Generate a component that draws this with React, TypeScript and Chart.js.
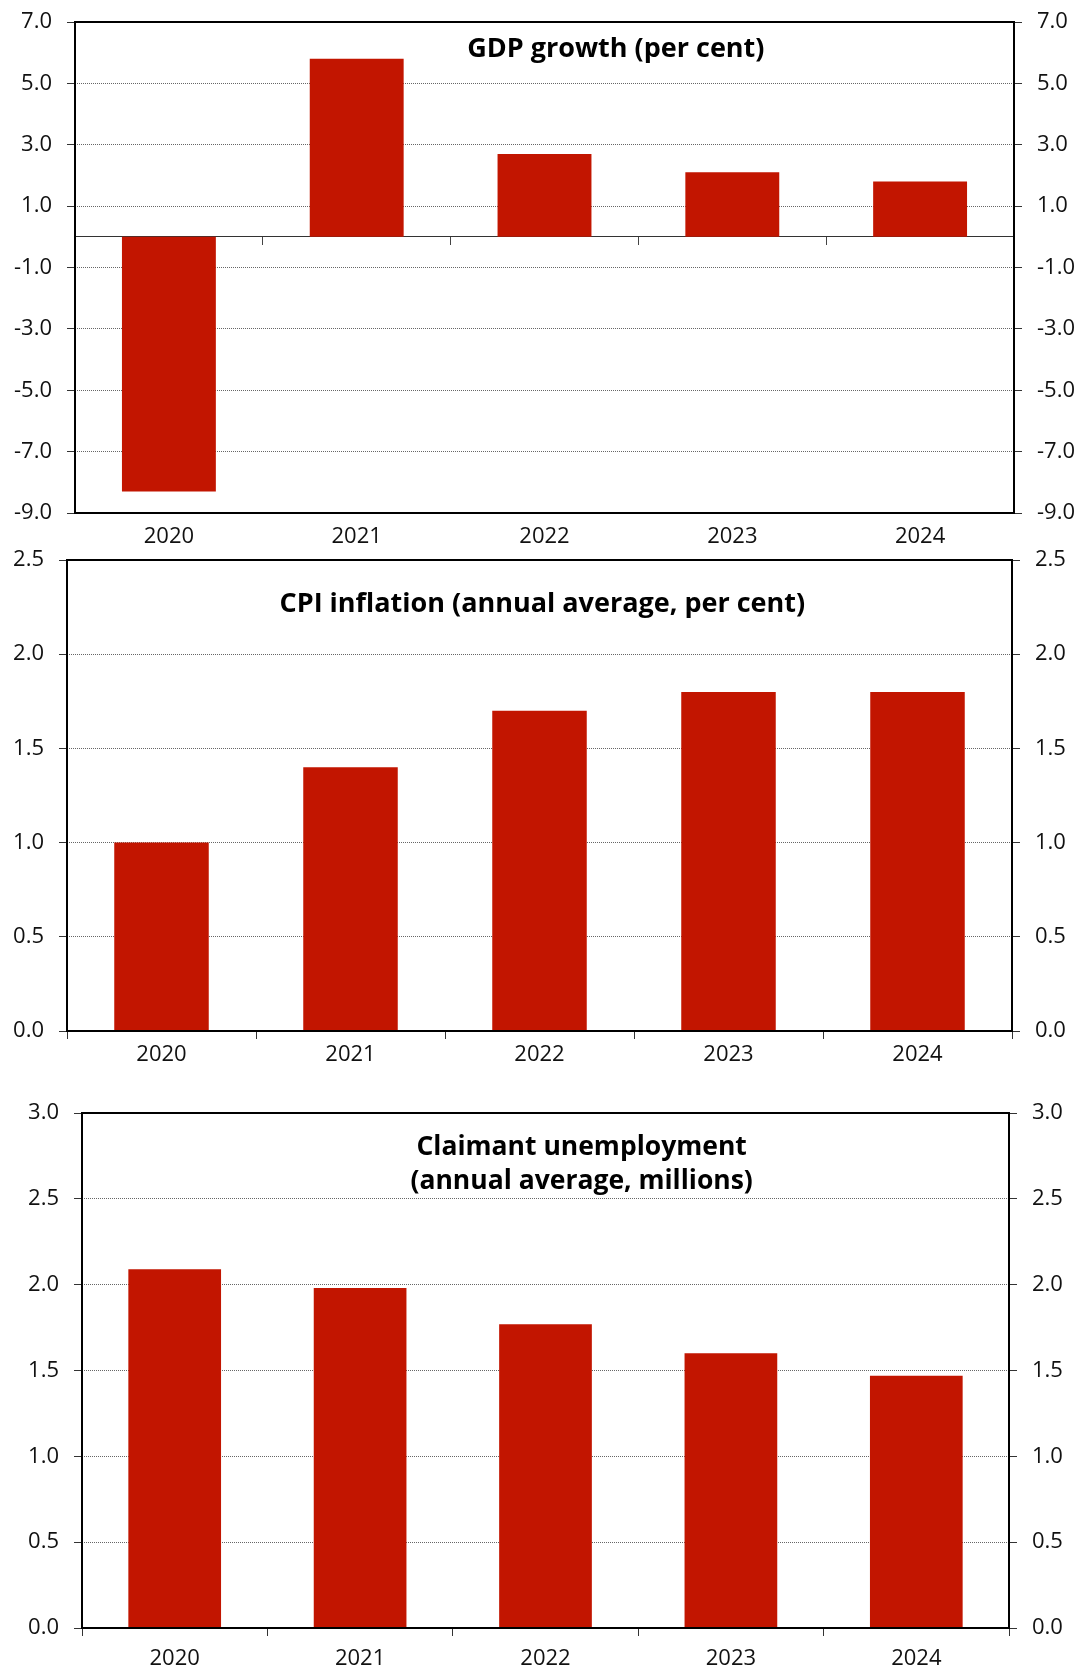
import React, { useEffect, useRef } from 'react';
import { Chart, registerables } from 'chart.js';

Chart.register(...registerables);

// ---- Data ----
const years = ['2020', '2021', '2022', '2023', '2024'];
const gdpGrowth = [-8.3, 5.8, 2.7, 2.1, 1.8];
const cpiInflation = [1.0, 1.4, 1.7, 1.8, 1.8];
const claimantUnemployment = [2.09, 1.98, 1.77, 1.6, 1.47];

const gdpTicks = [-9, -7, -5, -3, -1, 1, 3, 5, 7];
const cpiTicks = [0, 0.5, 1.0, 1.5, 2.0, 2.5];
const claimantTicks = [0, 0.5, 1.0, 1.5, 2.0, 2.5, 3.0];

const gdpTitle = ['GDP growth (per cent)'];
const cpiTitle = ['CPI inflation (annual average, per cent)'];
const claimantTitle = ['Claimant unemployment', '(annual average, millions)'];

const FONT = '"Open Sans", "Noto Sans", sans-serif';
const BAR_COLOR = '#C21500';

const innerTitle = {
  id: 'innerTitle',
  afterDraw(chart: any, _args: any, opts: any) {
    const { ctx, chartArea: a } = chart;
    ctx.save();
    ctx.font = `bold ${opts.size}px ${FONT}`;
    ctx.fillStyle = '#000';
    ctx.textAlign = 'center';
    ctx.textBaseline = 'middle';
    opts.lines.forEach((t: string, i: number) => {
      ctx.fillText(t, a.left + a.width * opts.xFrac, a.top + opts.yOffsets[i]);
    });
    ctx.restore();
  },
};

const framePlugin = {
  id: 'frame',
  afterDatasetsDraw(chart: any) {
    const { ctx, chartArea: a } = chart;
    ctx.save();
    ctx.strokeStyle = '#000';
    ctx.lineWidth = 2;
    ctx.strokeRect(a.left, a.top, a.right - a.left, a.bottom - a.top);
    ctx.restore();
  },
};

type PanelCfg = {
  values: number[];
  tickValues: number[];
  min: number;
  max: number;
  leftWidth: number;
  rightWidth: number;
  padTop: number;
  xHeight: number;
  xPad: number;
  zeroAxis: boolean;
  title: string[];
  titleSize: number;
  titleX: number;
  titleY: number[];
};

function makeConfig(p: PanelCfg): any {
  const tickFont = { family: FONT, size: 22 };
  const setTicks = (s: any) => {
    s.ticks = p.tickValues.map((v) => ({ value: v }));
  };
  const scales: any = {
    x: {
      type: 'category',
      position: 'bottom',
      offset: true,
      grid: {
        display: !p.zeroAxis,
        drawOnChartArea: false,
        tickLength: 8,
        tickColor: '#333',
        offset: true,
      },
      border: { display: false },
      ticks: {
        font: { family: FONT, size: 22 },
        color: '#111',
        padding: p.xPad,
        maxRotation: 0,
        autoSkip: false,
      },
      afterFit: (s: any) => {
        s.height = p.xHeight;
        s.paddingLeft = 0;
        s.paddingRight = 0;
      },
    },
    y: {
      position: 'left',
      min: p.min,
      max: p.max,
      afterBuildTicks: setTicks,
      grid: { color: '#666', lineWidth: 1, tickLength: 8, tickColor: '#333' },
      border: { display: false, dash: [1, 1] },
      ticks: {
        font: tickFont,
        color: '#111',
        padding: 15,
        callback: (v: any) => Number(v).toFixed(1),
      },
      afterFit: (s: any) => {
        s.width = p.leftWidth;
        s.paddingTop = 0;
        s.paddingBottom = 0;
      },
    },
    y2: {
      position: 'right',
      axis: 'y',
      min: p.min,
      max: p.max,
      afterBuildTicks: setTicks,
      grid: { drawOnChartArea: false, tickLength: 8, tickColor: '#333' },
      border: { display: false },
      ticks: {
        font: tickFont,
        color: '#111',
        padding: 15,
        callback: (v: any) => Number(v).toFixed(1),
      },
      afterFit: (s: any) => {
        s.width = p.rightWidth;
        s.paddingTop = 0;
        s.paddingBottom = 0;
      },
    },
  };
  if (p.zeroAxis) {
    scales.x0 = {
      type: 'category',
      axis: 'x',
      position: { y: 0 },
      offset: true,
      grid: {
        display: true,
        drawOnChartArea: false,
        tickLength: 8,
        tickColor: '#444',
        offset: true,
      },
      border: { display: true, color: '#333', width: 1 },
      ticks: { display: false },
      afterFit: (s: any) => {
        s.paddingLeft = 0;
        s.paddingRight = 0;
      },
    };
  }
  return {
    type: 'bar',
    data: {
      labels: years,
      datasets: [
        {
          data: p.values,
          backgroundColor: BAR_COLOR,
          borderWidth: 0,
          barPercentage: 0.5,
          categoryPercentage: 1.0,
          xAxisID: 'x',
          yAxisID: 'y',
        },
      ],
    },
    options: {
      responsive: false,
      animation: false,
      devicePixelRatio: 1,
      layout: { padding: { top: p.padTop, left: 0, right: 0, bottom: 0 } },
      plugins: {
        legend: { display: false },
        tooltip: { enabled: false },
        title: { display: false },
        innerTitle: {
          lines: p.title,
          size: p.titleSize,
          xFrac: p.titleX,
          yOffsets: p.titleY,
        },
      },
      scales,
    },
    plugins: [innerTitle, framePlugin],
  };
}

function Panel({ top, height, cfg }: { top: number; height: number; cfg: PanelCfg }) {
  const ref = useRef<HTMLCanvasElement>(null);
  useEffect(() => {
    const chart = new Chart(ref.current as HTMLCanvasElement, makeConfig(cfg));
    return () => chart.destroy();
  }, []);
  return (
    <canvas
      ref={ref}
      width={1083}
      height={height}
      style={{ position: 'absolute', left: 0, top, width: 1083, height, display: 'block' }}
    />
  );
}

export default function App() {
  return (
    <div
      style={{
        position: 'absolute',
        left: 0,
        top: 0,
        width: 1083,
        height: 1670,
        overflow: 'hidden',
        background: '#fff',
      }}
    >
      <Panel
        top={0}
        height={550}
        cfg={{
          values: gdpGrowth,
          tickValues: gdpTicks,
          min: -9,
          max: 7,
          leftWidth: 75,
          rightWidth: 69,
          padTop: 22,
          xHeight: 37,
          xPad: 3,
          zeroAxis: true,
          title: gdpTitle,
          titleSize: 27,
          titleX: 0.576,
          titleY: [27],
        }}
      />
      <Panel
        top={545}
        height={530}
        cfg={{
          values: cpiInflation,
          tickValues: cpiTicks,
          min: 0,
          max: 2.5,
          leftWidth: 67,
          rightWidth: 71,
          padTop: 15,
          xHeight: 44,
          xPad: 3,
          zeroAxis: false,
          title: cpiTitle,
          titleSize: 27,
          titleX: 0.503,
          titleY: [44],
        }}
      />
      <Panel
        top={1075}
        height={595}
        cfg={{
          values: claimantUnemployment,
          tickValues: claimantTicks,
          min: 0,
          max: 3,
          leftWidth: 82,
          rightWidth: 74,
          padTop: 38,
          xHeight: 42,
          xPad: 10,
          zeroAxis: false,
          title: claimantTitle,
          titleSize: 26.5,
          titleX: 0.539,
          titleY: [34, 68],
        }}
      />
    </div>
  );
}
